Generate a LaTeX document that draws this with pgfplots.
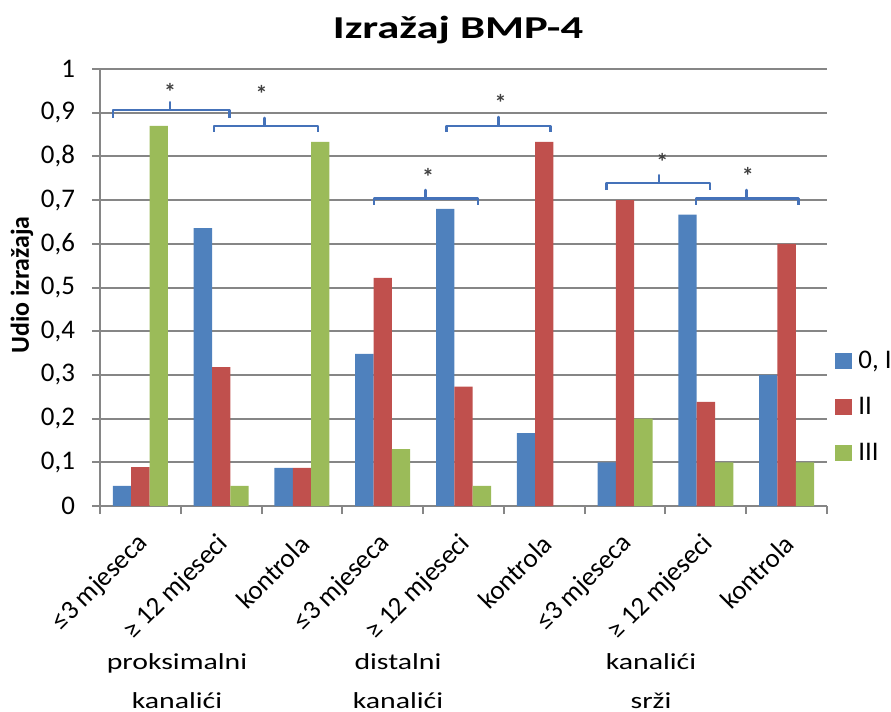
\documentclass[border=0pt]{standalone}
\usepackage{pgfplots}
\pgfplotsset{compat=1.18}
\usepackage{fontspec}
\setmainfont{Carlito}
\usepackage{graphicx}
\definecolor{cb}{RGB}{79,129,189}
\definecolor{cr}{RGB}{192,80,77}
\definecolor{cg}{RGB}{155,187,89}
\definecolor{gridg}{RGB}{134,134,134}
\definecolor{brk}{RGB}{69,114,185}
\definecolor{ast}{RGB}{64,64,64}
\begin{document}
\begin{tikzpicture}[x=1bp,y=1bp]
\path[use as bounding box] (0,0) rectangle (445.5,355.5);
\begin{axis}[
  at={(50bp,102.5bp)}, anchor=south west,
  scale only axis, width=363.5bp, height=218.5bp,
  ybar, bar width=0.227,
  xmin=-0.5, xmax=8.5, ymin=0, ymax=1,
  enlargelimits=false, clip=false,
  axis x line*=bottom, axis y line*=left,
  axis line style={gridg, line width=1bp, -},
  ymajorgrids, grid style={gridg, line width=1bp},
  ytick={0,0.1,0.2,0.3,0.4,0.5,0.6,0.7,0.8,0.9,1},
  yticklabels={0,{0,1},{0,2},{0,3},{0,4},{0,5},{0,6},{0,7},{0,8},{0,9},1},
  tick align=outside,
  ytick style={gridg, line width=1bp},
  xtick style={gridg, line width=1bp},
  major tick length=4bp,
  xtick={-0.5,0.5,1.5,2.5,3.5,4.5,5.5,6.5,7.5,8.5},
  xticklabels={},
  extra x ticks={0,1,2,3,4,5,6,7,8},
  extra x tick labels={≤3 mjeseca,≥ 12 mjeseci,kontrola,≤3 mjeseca,≥ 12 mjeseci,kontrola,≤3 mjeseca,≥ 12 mjeseci,kontrola},
  extra x tick style={major tick length=0pt},
  yticklabel style={font=\fontsize{13.5}{15}\selectfont, xshift=-5bp},
  xticklabel style={font=\fontsize{13.5}{15}\selectfont, rotate=45, anchor=east, yshift=-13bp, xshift=-7.5bp},
  legend style={draw=none, fill=none, at={(1.011,0.352)}, anchor=north west,
    inner sep=0pt, row sep=15bp, font=\fontsize{13.5}{15}\selectfont,
    nodes={inner sep=0pt, text height=8bp, text depth=0pt, anchor=west},
    /tikz/every odd column/.append style={column sep=3bp}},
  legend image code/.code={\fill[#1] (0bp,-4bp) rectangle (8.5bp,4bp);},
]
\addplot[fill=cb, draw=none, bar shift=-0.227] coordinates {
 (0,0.046) (1,0.636) (2,0.087) (3,0.348) (4,0.68) (5,0.167) (6,0.1) (7,0.667) (8,0.3)};
\addplot[fill=cr, draw=none, bar shift=0] coordinates {
 (0,0.089) (1,0.318) (2,0.087) (3,0.522) (4,0.273) (5,0.833) (6,0.7) (7,0.238) (8,0.6)};
\addplot[fill=cg, draw=none, bar shift=0.227] coordinates {
 (0,0.87) (1,0.046) (2,0.833) (3,0.13) (4,0.046) (5,0) (6,0.2) (7,0.1) (8,0.1)};
\legend{{0, I},II,III}
% brackets
\addplot[sharp plot, forget plot, brk, line width=1.3bp, mark=none, line join=round] coordinates {
 (-0.34,0.888) (-0.34,0.906) (0.366,0.906) (0.366,0.924) (0.366,0.906) (1.10,0.906) (1.10,0.888)};
\addplot[sharp plot, forget plot, brk, line width=1.3bp, mark=none, line join=round] coordinates {
 (0.91,0.856) (0.91,0.870) (1.54,0.870) (1.54,0.888) (1.54,0.870) (2.20,0.870) (2.20,0.856)};
\addplot[sharp plot, forget plot, brk, line width=1.3bp, mark=none, line join=round] coordinates {
 (2.89,0.689) (2.89,0.703) (3.53,0.703) (3.53,0.723) (3.53,0.703) (4.18,0.703) (4.18,0.689)};
\addplot[sharp plot, forget plot, brk, line width=1.3bp, mark=none, line join=round] coordinates {
 (3.79,0.856) (3.79,0.870) (4.43,0.870) (4.43,0.890) (4.43,0.870) (5.08,0.870) (5.08,0.856)};
\addplot[sharp plot, forget plot, brk, line width=1.3bp, mark=none, line join=round] coordinates {
 (5.77,0.723) (5.77,0.739) (6.42,0.739) (6.42,0.757) (6.42,0.739) (7.05,0.739) (7.05,0.723)};
\addplot[sharp plot, forget plot, brk, line width=1.3bp, mark=none, line join=round] coordinates {
 (6.88,0.689) (6.88,0.703) (7.50,0.703) (7.50,0.723) (7.50,0.703) (8.15,0.703) (8.15,0.689)};
\node[ast, font=\bfseries\fontsize{12}{13}\selectfont] at (axis cs:0.366,0.947) {*};
\node[ast, font=\bfseries\fontsize{12}{13}\selectfont] at (axis cs:1.50,0.943) {*};
\node[ast, font=\bfseries\fontsize{12}{13}\selectfont] at (axis cs:3.56,0.753) {*};
\node[ast, font=\bfseries\fontsize{12}{13}\selectfont] at (axis cs:4.46,0.922) {*};
\node[ast, font=\bfseries\fontsize{12}{13}\selectfont] at (axis cs:6.46,0.787) {*};
\node[ast, font=\bfseries\fontsize{12}{13}\selectfont] at (axis cs:7.52,0.755) {*};
\end{axis}
\node[anchor=base] at (229,336.5) {\scalebox{1.4}[1]{\bfseries\fontsize{16}{19}\selectfont Izražaj BMP-4}};
\node[rotate=90, font=\bfseries\fontsize{13}{15}\selectfont] at (11,213) {Udio izražaja};
\node[anchor=base] at (88.5,21) {\scalebox{1.3}[1]{\fontsize{11.5}{13}\selectfont proksimalni}};
\node[anchor=base] at (88.5,1.5) {\scalebox{1.3}[1]{\fontsize{11.5}{13}\selectfont kanalići}};
\node[anchor=base] at (199,21) {\scalebox{1.3}[1]{\fontsize{11.5}{13}\selectfont distalni}};
\node[anchor=base] at (199,1.5) {\scalebox{1.3}[1]{\fontsize{11.5}{13}\selectfont kanalići}};
\node[anchor=base] at (325.5,21) {\scalebox{1.3}[1]{\fontsize{11.5}{13}\selectfont kanalići}};
\node[anchor=base] at (325.5,1.5) {\scalebox{1.3}[1]{\fontsize{11.5}{13}\selectfont srži}};
\end{tikzpicture}
\end{document}
